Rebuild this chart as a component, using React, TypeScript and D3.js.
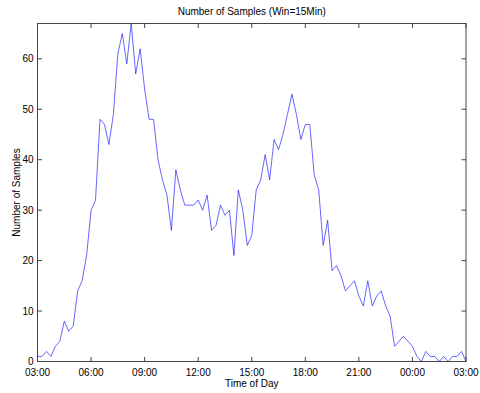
import React from "react";
import * as d3 from "d3";

const title = "Number of Samples (Win=15Min)";
const xLabel = "Time of Day";
const yLabel = "Number of Samples";
// samples per 15-minute window starting at 03:00
const samples = [
  1, 1, 2, 1, 3, 4, 8, 6, 7, 14, 16, 21, 30, 32, 48, 47, 43, 49, 61, 65, 59, 67, 57, 62,
  54, 48, 48, 40, 36, 33, 26, 38, 34, 31, 31, 31, 32, 30, 33, 26, 27, 31, 29, 30, 21, 34,
  30, 23, 25, 34, 36, 41, 36, 44, 42, 45, 49, 53, 49, 44, 47, 47, 37, 34, 23, 28, 18, 19,
  17, 14, 15, 16, 13, 11, 16, 11, 13, 14, 11, 9, 3, 4, 5, 4, 3, 1, 0, 2, 1, 1, 0, 1, 0, 1,
  1, 2, 0,
];
const windowMinutes = 15;
const xTickMinutes = [0, 180, 360, 540, 720, 900, 1080, 1260, 1440];
const xTickLabels = ["03:00", "06:00", "09:00", "12:00", "15:00", "18:00", "21:00", "00:00", "03:00"];
const yTicks = [0, 10, 20, 30, 40, 50, 60];
const yMax = 67;

export default function App() {
  const W = 480, H = 393;
  const L = 37.5, R = 466, T = 23.5, B = 361.5;
  const x = d3.scaleLinear().domain([0, 1440]).range([L, R]);
  const y = d3.scaleLinear().domain([0, yMax]).range([B, T]);
  const line = d3
    .line<number>()
    .x((_, i) => x(i * windowMinutes))
    .y((d) => y(d));
  const axisColor = "#444";
  const font = "Arial, 'Liberation Sans', sans-serif";
  const tl = 4.5;
  const fs = 10;
  return (
    <svg width={W} height={H} style={{ position: "absolute", left: 0, top: 0, background: "#fff" }} fontFamily={font}>
      <rect x={0} y={0} width={W} height={H} fill="#fff" />
      <path d={line(samples) || ""} fill="none" stroke="#0000ff" strokeWidth={0.6} />
      <rect x={L} y={T} width={R - L} height={B - T} fill="none" stroke={axisColor} strokeWidth={1} />
      {xTickMinutes.map((m, i) => (
        <g key={"x" + i}>
          <line x1={x(m)} x2={x(m)} y1={B} y2={B - tl} stroke={axisColor} />
          <line x1={x(m)} x2={x(m)} y1={T} y2={T + tl} stroke={axisColor} />
          <text x={x(m)} y={B + 14} fontSize={fs} textAnchor="middle" fill="#000">
            {xTickLabels[i]}
          </text>
        </g>
      ))}
      {yTicks.map((v) => (
        <g key={"y" + v}>
          <line x1={L} x2={L + tl} y1={y(v)} y2={y(v)} stroke={axisColor} />
          <line x1={R} x2={R - tl} y1={y(v)} y2={y(v)} stroke={axisColor} />
          <text x={L - 4} y={y(v) + 3.5} fontSize={fs} textAnchor="end" fill="#000">
            {v}
          </text>
        </g>
      ))}
      <text x={(L + R) / 2} y={15} fontSize={fs} textAnchor="middle" fill="#000">
        {title}
      </text>
      <text x={(L + R) / 2} y={387} fontSize={fs} textAnchor="middle" fill="#000">
        {xLabel}
      </text>
      <text
        transform={`translate(${20},${(T + B) / 2}) rotate(-90)`}
        fontSize={fs}
        textAnchor="middle"
        fill="#000"
      >
        {yLabel}
      </text>
    </svg>
  );
}
